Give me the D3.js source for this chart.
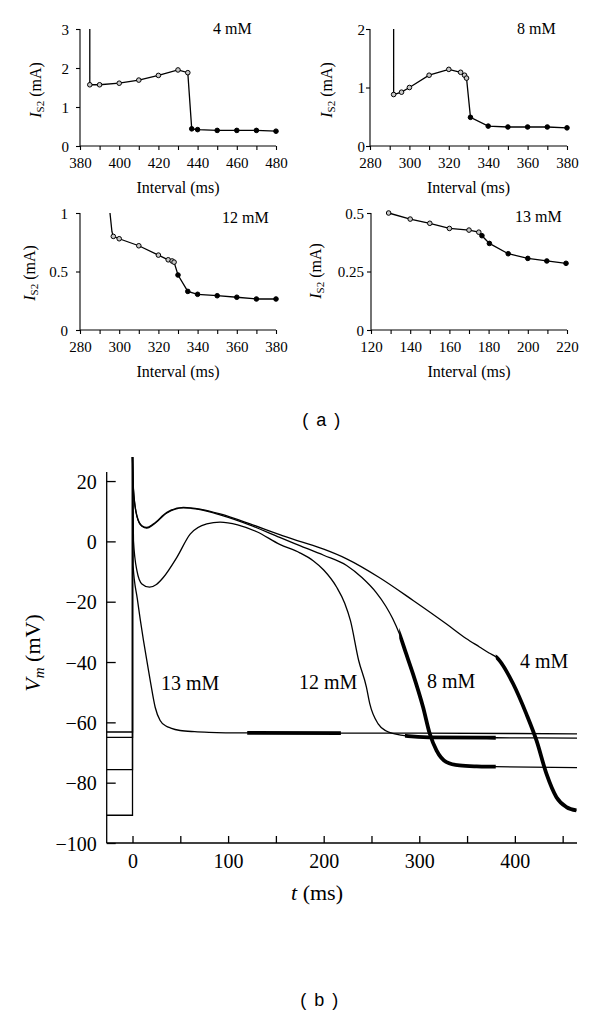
<!DOCTYPE html>
<html><head><meta charset="utf-8">
<script src="https://cdn.jsdelivr.net/npm/d3@7"></script>
<style>body{margin:0;background:#fff}svg{display:block}</style>
</head><body><svg id="c" width="600" height="1015"></svg>
<script>
// ================= Panel (a) data =================
const concLabels = ["4 mM", "8 mM", "12 mM", "13 mM"];

const int4  = [385, 390, 400, 410, 420, 430, 435, 437, 440, 450, 460, 470, 480];
const cur4  = [1.57, 1.57, 1.61, 1.69, 1.81, 1.95, 1.88, 0.44, 0.42, 0.40, 0.40, 0.40, 0.38];
const open4 = 7;
const leadX4 = [385], leadY4 = [3.0];

const int8  = [292, 296, 300, 310, 320, 326, 328, 329, 331, 340, 350, 360, 370, 380];
const cur8  = [0.88, 0.92, 1.00, 1.21, 1.31, 1.26, 1.21, 1.16, 0.49, 0.34, 0.325, 0.325, 0.325, 0.31];
const open8 = 8;
const leadX8 = [292], leadY8 = [2.0];

const int12  = [297, 300, 310, 320, 325, 327, 328, 330, 335, 340, 350, 360, 370, 380];
const cur12  = [0.80, 0.78, 0.72, 0.64, 0.60, 0.59, 0.58, 0.47, 0.33, 0.305, 0.293, 0.28, 0.265, 0.265];
const open12 = 7;
const leadX12 = [295.3, 296.3], leadY12 = [1.0, 0.84];

const int13  = [129, 140, 150, 160, 170, 175, 176.6, 180.4, 190, 200, 209.7, 219.5];
const cur13  = [0.50, 0.474, 0.456, 0.434, 0.427, 0.418, 0.403, 0.37, 0.326, 0.306, 0.295, 0.285];
const open13 = 6;
const leadX13 = [], leadY13 = [];

const xDomA = [[380, 480], [280, 380], [280, 380], [120, 220]];
const yDomA = [[0, 3], [0, 2], [0, 1], [0, 0.5]];
const xLabA = [[380, 400, 420, 440, 460, 480], [280, 300, 320, 340, 360, 380],
               [280, 300, 320, 340, 360, 380], [120, 140, 160, 180, 200, 220]];
const yLabA = [[0, 1, 2, 3], [0, 1, 2], [0, 0.5, 1], [0, 0.25, 0.5]];

// ================= Panel (b) data =================
const restV = [-90.8, -75.7, -65.0, -63.2];   // 4, 8, 12, 13 mM resting levels
const tStart = -27;
const t4 = [0, 1, 4.6, 9.8, 15, 22, 36, 53.3, 70.7, 91.6, 123, 154, 175, 200, 224, 257.7, 293.6, 328.5, 349, 363, 373, 380.7, 398.2, 412, 422.6, 433, 443.5, 454, 464.4];
const v4 = [28, 17.3, 8.5, 5.2, 4.6, 5.8, 9.6, 11.3, 10.7, 9.1, 5.8, 2.2, 0, -2.6, -5.8, -11.9, -19.6, -27.4, -32.2, -35.0, -37.0, -38.4, -47.2, -57.2, -66, -77, -84.8, -88.1, -89.2];
const t8 = [0, 1, 4.6, 9.8, 15, 22, 36, 53.3, 70.7, 91.6, 123, 154, 175, 200, 224, 240, 255, 265, 272, 279, 286, 293.5, 304, 311, 318, 328.5, 342, 360, 379, 465];
const v8 = [28, 17, 8.3, 5.0, 4.4, 5.6, 9.4, 11.1, 10.5, 8.8, 5.4, 1.3, -1.4, -4.6, -8.0, -12, -17, -21.5, -25.5, -30.5, -37, -44, -55, -63.8, -69.3, -73.2, -74.3, -74.6, -74.7, -75];
const t12 = [0, 1, 4.6, 9.8, 17.8, 25, 32.4, 46.4, 60.3, 77.7, 91.6, 110, 130, 154, 175, 189, 200, 213.6, 222, 228, 236.6, 244.7, 248.2, 257, 265, 274.3, 288.3, 310, 380, 465];
const v12 = [28, 0.2, -9.7, -14.1, -15.2, -14.3, -11.9, -5.3, 2.4, 5.8, 6.4, 5.5, 3.2, -1, -3.8, -6.4, -9.5, -15.2, -20.5, -26.3, -39.5, -48.3, -53.8, -60.5, -62.8, -63.8, -64.6, -65, -65.1, -65.2];
const t13 = [0, 0.6, 5, 11.5, 15, 19, 23.7, 28.9, 35, 40, 49.8, 65, 80, 120, 220, 300, 400, 465];
const v13 = [28, -8, -19, -32.9, -39.5, -47, -55, -59.4, -61.2, -61.9, -62.7, -63.1, -63.3, -63.5, -63.6, -63.6, -63.7, -63.8];
const thickRanges = [[380, 465], [279, 380], [285, 380], [120, 218]];
const xTicksB = [0, 50, 100, 150, 200, 250, 300, 350, 400, 450];
const xLabB = [0, 100, 200, 300, 400];
const yTicksB = [-100, -80, -60, -40, -20, 0, 20];

// ================= Drawing =================
const svg = d3.select("#c");
const SERIF = "Liberation Serif, Times New Roman, serif";

// ---------- panel (a) ----------
const boxes = [
  {x0: 80, x1: 276, top: 29, bot: 146, ylabX: 41, ylabY: 90, yEnd: 69, tx: 213, ty: 34},
  {x0: 370, x1: 567, top: 29, bot: 146, ylabX: 332, ylabY: 90, yEnd: 365, tx: 517, ty: 34},
  {x0: 80, x1: 276, top: 213, bot: 330, ylabX: 35, ylabY: 273, yEnd: 68, tx: 222, ty: 223},
  {x0: 371, x1: 567, top: 213, bot: 330, ylabX: 321, ylabY: 271, yEnd: 364, tx: 515, ty: 222}
];
const ints = [int4, int8, int12, int13];
const curs = [cur4, cur8, cur12, cur13];
const opens = [open4, open8, open12, open13];
const leadXs = [leadX4, leadX8, leadX12, leadX13];
const leadYs = [leadY4, leadY8, leadY12, leadY13];

boxes.forEach((b, i) => {
  const g = svg.append("g");
  const x = d3.scaleLinear().domain(xDomA[i]).range([b.x0, b.x1]);
  const y = d3.scaleLinear().domain(yDomA[i]).range([b.bot, b.top]);
  const step = (xDomA[i][1] - xDomA[i][0]) / 10;
  const xAxis = d3.axisBottom(x).tickValues(d3.range(0, 11).map(k => xDomA[i][0] + k * step))
    .tickSize(4).tickFormat(d => xLabA[i].includes(d) ? d : "");
  const gx = g.append("g").attr("transform", `translate(0,${b.bot})`).call(xAxis);
  gx.select(".domain").attr("d", `M${b.x0},0H${b.x1}`);
  gx.selectAll("text").attr("font-family", SERIF).attr("font-size", 15).attr("fill", "#000")
    .attr("y", 22).attr("dy", 0);
  const yAxis = d3.axisLeft(y).tickValues(yLabA[i]).tickSize(4).tickFormat(d => d);
  const gy = g.append("g").attr("transform", `translate(${b.x0},0)`).call(yAxis);
  gy.select(".domain").attr("d", `M0,${b.bot}V${b.top}`);
  gy.selectAll("text").attr("font-family", SERIF).attr("font-size", 15).attr("fill", "#000")
    .attr("x", b.yEnd - b.x0).attr("dy", "0.35em");
  g.selectAll(".domain, .tick line").attr("stroke", "#000").attr("stroke-width", 1.1);

  g.append("text").attr("x", (b.x0 + b.x1) / 2).attr("y", b.bot + 47)
    .attr("text-anchor", "middle").attr("font-family", SERIF).attr("font-size", 16)
    .text("Interval (ms)");
  const yl = g.append("text").attr("transform", `translate(${b.ylabX},${b.ylabY}) rotate(-90)`)
    .attr("text-anchor", "middle").attr("font-family", SERIF).attr("font-size", 16);
  yl.append("tspan").attr("font-style", "italic").text("I");
  yl.append("tspan").attr("font-size", 11).attr("dy", 3).text("S2");
  yl.append("tspan").attr("dy", -3).text(" (mA)");
  g.append("text").attr("x", b.tx).attr("y", b.ty).attr("font-family", SERIF)
    .attr("font-size", 16).text(concLabels[i]);

  const pts = leadXs[i].map((v, k) => [v, leadYs[i][k]])
    .concat(ints[i].map((v, k) => [v, curs[i][k]]));
  g.append("path").attr("d", d3.line().x(d => x(d[0])).y(d => y(d[1]))(pts))
    .attr("fill", "none").attr("stroke", "#000").attr("stroke-width", 1.3);
  g.selectAll("circle").data(ints[i].map((v, k) => [v, curs[i][k], k < opens[i]]))
    .join("circle").attr("cx", d => x(d[0])).attr("cy", d => y(d[1])).attr("r", 2.3)
    .attr("fill", d => d[2] ? "#c8c8c8" : "#000").attr("stroke", "#000").attr("stroke-width", 1);
});

svg.append("text").attr("x", 322).attr("y", 426).attr("text-anchor", "middle")
  .attr("font-family", "Liberation Sans, Arial, sans-serif").attr("font-size", 18)
  .attr("letter-spacing", 1.5).text("( a )");

// ---------- panel (b) ----------
const xb = d3.scaleLinear().domain([tStart, 465]).range([106.7, 577]);
const yb = d3.scaleLinear().domain([-100, 23]).range([843, 472]);
const gb = svg.append("g");

const gxb = gb.append("g").attr("transform", `translate(0,${yb(-100)})`)
  .call(d3.axisBottom(xb).tickValues(xTicksB).tickSize(-7).tickFormat(d => xLabB.includes(d) ? d : ""));
gxb.select(".domain").attr("d", `M${xb(tStart)},0H${xb(465)}`);
gxb.selectAll("text").attr("font-family", SERIF).attr("font-size", 20).attr("fill", "#000")
  .attr("y", 25).attr("dy", 0);
const gyb = gb.append("g").attr("transform", `translate(${xb(tStart)},0)`)
  .call(d3.axisLeft(yb).tickValues(yTicksB).tickSize(-9));
gyb.select(".domain").attr("d", `M0,${yb(-100)}V${yb(23)}`);
gyb.selectAll("text").attr("font-family", SERIF).attr("font-size", 20).attr("fill", "#000")
  .attr("x", -10).attr("dy", "0.35em");
gb.selectAll(".domain, .tick line").attr("stroke", "#000").attr("stroke-width", 1.3);

const ts = [t4, t8, t12, t13], vs = [v4, v8, v12, v13];
const line = d3.line().x(d => xb(d[0])).y(d => yb(d[1])).curve(d3.curveMonotoneX);
const lineLin = d3.line().x(d => xb(d[0])).y(d => yb(d[1]));
const defs = svg.append("defs");
ts.forEach((t, i) => {
  const pts = t.map((v, k) => [v, vs[i][k]]);
  gb.append("path").attr("d", lineLin([[tStart, restV[i]], [0, restV[i]], [0, vs[i][0]]]))
    .attr("fill", "none").attr("stroke", "#000").attr("stroke-width", 1.3);
  gb.append("path").attr("d", line(pts)).attr("fill", "none").attr("stroke", "#000")
    .attr("stroke-width", 1.3);
  const r = thickRanges[i];
  defs.append("clipPath").attr("id", "clip" + i).append("rect")
    .attr("x", xb(r[0])).attr("width", xb(r[1]) - xb(r[0])).attr("y", 0).attr("height", 1015);
  gb.append("path").attr("d", line(pts)).attr("fill", "none").attr("stroke", "#000")
    .attr("stroke-width", 3.8).attr("clip-path", `url(#clip${i})`);
});

const labPos = [[520, 668], [427, 688], [299, 689], [161, 690]];
labPos.forEach((p, i) => {
  gb.append("text").attr("x", p[0]).attr("y", p[1]).attr("font-family", SERIF)
    .attr("font-size", 20).text(concLabels[i]);
});

const xt = gb.append("text").attr("x", 317).attr("y", 900).attr("text-anchor", "middle")
  .attr("font-family", SERIF).attr("font-size", 22);
xt.append("tspan").attr("font-style", "italic").text("t");
xt.append("tspan").text(" (ms)");
const yt = gb.append("text").attr("transform", "translate(40,653) rotate(-90)")
  .attr("text-anchor", "middle").attr("font-family", SERIF).attr("font-size", 22);
yt.append("tspan").attr("font-style", "italic").text("V");
yt.append("tspan").attr("font-style", "italic").attr("font-size", 15).attr("dy", 4).text("m");
yt.append("tspan").attr("dy", -4).text(" (mV)");

svg.append("text").attr("x", 320).attr("y", 1006).attr("text-anchor", "middle")
  .attr("font-family", "Liberation Sans, Arial, sans-serif").attr("font-size", 18)
  .attr("letter-spacing", 1.5).text("( b )");
</script></body></html>
